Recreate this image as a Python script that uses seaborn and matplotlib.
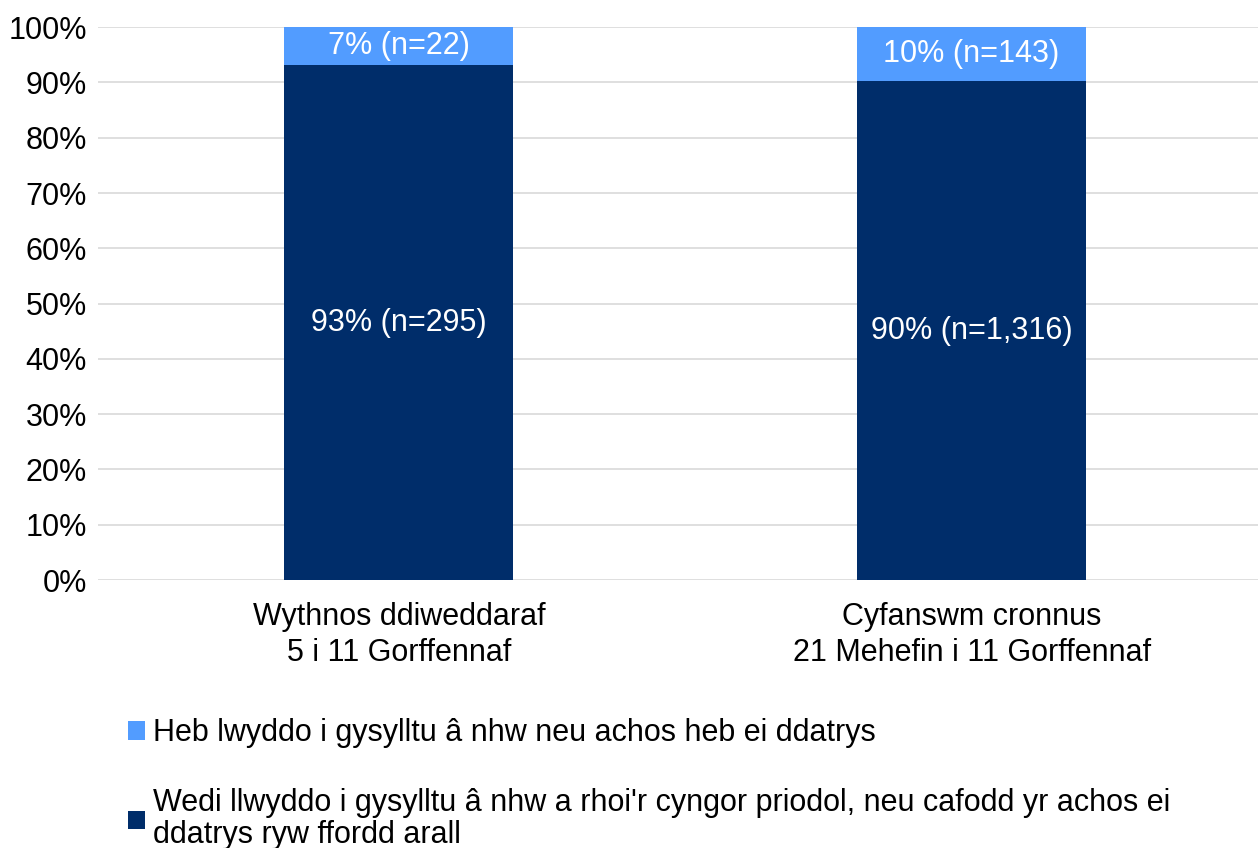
import numpy as np
import pandas as pd
import matplotlib
matplotlib.use("Agg")
import matplotlib.pyplot as plt
import seaborn as sns

# data
categories = ["Wythnos ddiweddaraf\n5 i 11 Gorffennaf",
              "Cyfanswm cronnus\n21 Mehefin i 11 Gorffennaf"]
pct_wedi = [93.1, 90.2]
pct_heb = [6.9, 9.8]
n_wedi = [295, 1316]
n_heb = [22, 143]
label_heb = "Heb lwyddo i gysylltu â nhw neu achos heb ei ddatrys"
label_wedi = "Wedi llwyddo i gysylltu â nhw a rhoi'r cyngor priodol, neu cafodd yr achos ei\nddatrys ryw ffordd arall"

dark = "#002D6A"
light = "#529CFF"

sns.set_theme(style="whitegrid")
plt.rcParams["font.family"] = ["Liberation Sans", "DejaVu Sans"]
fs = 22

df = pd.DataFrame({"cat": categories, "wedi": pct_wedi, "heb": pct_heb})
df["total"] = df["wedi"] + df["heb"]

fig = plt.figure(figsize=(12.58, 8.48), dpi=100)
ax = fig.add_axes([0.078, 0.316, 0.922, 0.652])

# stacked bars: full height first (light), dark segment over it
sns.barplot(data=df, x="cat", y="total", color=light, width=0.4,
            saturation=1, label=label_heb, linewidth=0, ax=ax)
sns.barplot(data=df, x="cat", y="wedi", color=dark, width=0.4,
            saturation=1, label=label_wedi, linewidth=0, ax=ax)

# labels in segments
heb_bars = ax.containers[0]
wedi_bars = ax.containers[1]
for i, b in enumerate(heb_bars):
    top = b.get_height()
    mid = pct_wedi[i] + (top - pct_wedi[i]) / 2
    ax.text(b.get_x() + b.get_width() / 2, mid,
            f"{round(pct_heb[i])}% (n={n_heb[i]:,})",
            ha="center", va="center", color="white", fontsize=fs)
ax.bar_label(wedi_bars, labels=[f"{round(p)}% (n={n:,})" for p, n in zip(pct_wedi, n_wedi)],
             label_type="center", color="white", fontsize=fs)

ax.set_ylim(0, 100)
ax.set_xlim(-0.525, 1.5)
ax.set_yticks(np.arange(0, 101, 10))
ax.set_yticklabels([f"{v}%" for v in range(0, 101, 10)])
ax.tick_params(axis="both", labelsize=fs, colors="#000000", length=0)
ax.tick_params(axis="x", pad=16)
ax.tick_params(axis="y", pad=8)
for t in ax.get_xticklabels():
    t.set_linespacing(1.25)
ax.set_xlabel("")
ax.set_ylabel("")
ax.grid(axis="x", visible=False)
ax.grid(axis="y", color="#D9D9D9", linewidth=1.2)
for s in ax.spines.values():
    s.set_visible(False)
ax.set_axisbelow(True)

handles, labels = ax.get_legend_handles_labels()
if ax.get_legend() is not None:
    ax.get_legend().remove()
leg = fig.legend(handles, labels, loc="upper left", bbox_to_anchor=(0.102, 0.153),
                 frameon=False, fontsize=fs, handlelength=0.55, handleheight=0.55,
                 handletextpad=0.25, labelspacing=1.3, borderpad=0, borderaxespad=0)
for t in leg.get_texts():
    t.set_color("#000000")
    t.set_linespacing(1.1)

fig.savefig("out.png", dpi=100)
